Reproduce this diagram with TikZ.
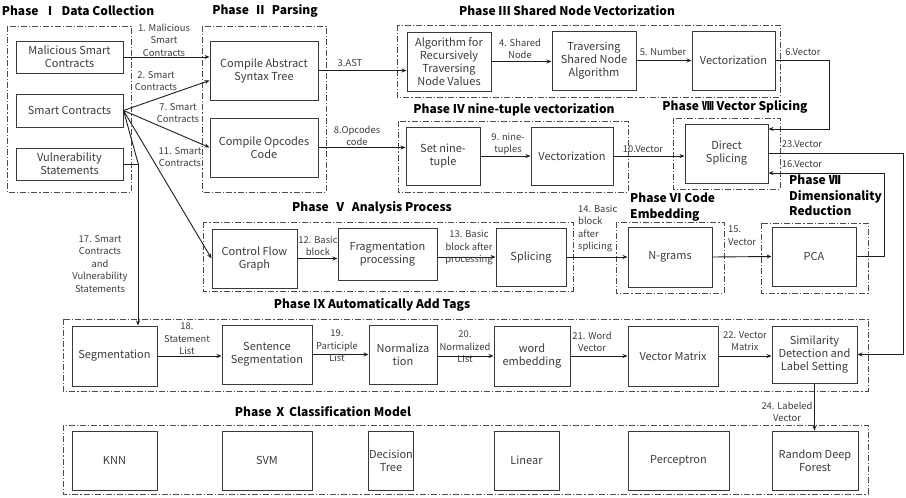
\documentclass[tikz,border=0pt]{standalone}
\usepackage{fontspec}
\setmainfont{Noto Sans CJK SC}
\usetikzlibrary{arrows.meta}
\definecolor{boxc}{HTML}{3A3A3A}
\definecolor{grpc}{HTML}{4A4A4A}
\definecolor{linec}{HTML}{1E1E1E}
\definecolor{txt}{HTML}{3C3C3C}
\begin{document}
\begin{tikzpicture}[x=1pt,y=-1pt,
  box/.style={draw=boxc, line width=1pt, fill=white, text=txt,
    font=\fontsize{11}{13}\selectfont, align=center, inner sep=1pt},
  grp/.style={draw=grpc, line width=0.9pt, dash pattern=on 6pt off 2pt on 1.2pt off 2pt},
  ttl/.style={font=\fontsize{12}{15.5}\selectfont\bfseries, text=black, inner sep=0pt},
  ttll/.style={ttl, align=left, anchor=north west},
  lbl/.style={font=\fontsize{9.4}{12.5}\selectfont, text=txt, align=center, inner sep=0pt},
  lbll/.style={lbl, align=left, anchor=north west},
  arr/.style={draw=linec, line width=0.9pt, -{Stealth[length=5pt,width=4pt]}},
  ln/.style={draw=linec, line width=0.9pt}]

\useasboundingbox (0,0) rectangle (906,498);
\fill[white] (0,0) rectangle (906,498);

% ---------- phase frames ----------
\draw[grp] (7,26) rectangle (131,192);
\draw[grp] (202,26) rectangle (326,192);
\draw[grp] (397,25) rectangle (780,97);
\draw[grp] (398,121) rectangle (628,192);
\draw[grp] (673,118) rectangle (780,189);
\draw[grp] (203,222) rectangle (573,291);
\draw[grp] (616,222) rectangle (724,293);
\draw[grp] (761,223) rectangle (868,293);
\draw[grp] (63,319) rectangle (868,391);
\draw[grp] (63,425) rectangle (868,494);

% ---------- phase titles ----------
\node[ttl] (t1) at (78,11) {Phase \ Ⅰ \ Data Collection};
\node[ttl] (t2) at (265,11) {Phase \ Ⅱ \ Parsing};
\node[ttl] (t3) at (567,11) {Phase Ⅲ Shared Node Vectorization};
\node[ttl] (t4) at (514,110) {Phase Ⅳ nine-tuple vectorization};
\node[ttl] (t8) at (735,107) {Phase Ⅷ Vector Splicing};
\node[ttl] (t5) at (372,208) {Phase \ Ⅴ \ Analysis Process};
\node[ttll] (t6) at (630,193) {Phase Ⅵ Code\\Embedding};
\node[ttll] (t7) at (789,175) {Phase Ⅶ\\Dimensionality\\Reduction};
\node[ttl] (t9) at (372,305) {Phase Ⅸ Automatically Add Tags};
\node[ttl] (t10) at (323,412) {Phase Ⅹ Classification Model};

% ---------- Phase I ----------
\node[box, minimum width=107pt, minimum height=32pt] (mal) at (69.5,57) {Malicious Smart\\Contracts};
\node[box, minimum width=107pt, minimum height=33pt] (sc) at (69.5,110.5) {Smart Contracts};
\node[box, minimum width=107pt, minimum height=32pt] (vul) at (69.5,164) {Vulnerability\\Statements};

% ---------- Phase II ----------
\node[box, minimum width=108pt, minimum height=59pt] (ast) at (264,70.5) {Compile Abstract\\Syntax Tree};
\node[box, minimum width=108pt, minimum height=59pt] (opc) at (264,147.5) {Compile Opcodes\\Code};

% ---------- Phase III ----------
\node[box, minimum width=84pt, minimum height=59pt] (alg) at (449,61.5) {Algorithm for\\Recursively\\Traversing\\Node Values};
\node[box, minimum width=84pt, minimum height=59pt] (trav) at (594,60.5) {Traversing\\Shared Node\\Algorithm};
\node[box, minimum width=83pt, minimum height=59pt] (vec3) at (733.5,60.5) {Vectorization};

% ---------- Phase IV ----------
\node[box, minimum width=74pt, minimum height=58pt] (set) at (443,156) {Set nine-\\tuple};
\node[box, minimum width=82pt, minimum height=58pt] (vec4) at (572,156) {Vectorization};

% ---------- Phase VIII ----------
\node[box, minimum width=83pt, minimum height=59pt] (ds) at (726.5,153.5) {Direct\\Splicing};

% ---------- Phase V ----------
\node[box, minimum width=85pt, minimum height=59pt] (cfg) at (254.5,258.5) {Control Flow\\Graph};
\node[box, minimum width=99pt, minimum height=52pt] (frag) at (387.5,254) {Fragmentation\\processing};
\node[box, minimum width=70pt, minimum height=58pt] (spl) at (531,257) {Splicing};

% ---------- Phase VI / VII ----------
\node[box, minimum width=84pt, minimum height=60pt] (ngr) at (670,257) {N-grams};
\node[box, minimum width=84pt, minimum height=59pt] (pca) at (814,256.5) {PCA};

% ---------- Phase IX ----------
\node[box, minimum width=85pt, minimum height=60pt] (seg) at (114.5,356) {Segmentation};
\node[box, minimum width=90pt, minimum height=59pt] (sen) at (267,354.5) {Sentence\\Segmentation};
\node[box, minimum width=68pt, minimum height=59pt] (nor) at (403,354.5) {Normaliza\\tion};
\node[box, minimum width=76pt, minimum height=60pt] (emb) at (532,356) {word\\embedding};
\node[box, minimum width=90pt, minimum height=60pt] (vm) at (673,356) {Vector Matrix};
\node[box, minimum width=85pt, minimum height=57pt] (sim) at (814.5,354.5) {Similarity\\Detection and\\Label Setting};

% ---------- Phase X ----------
\node[box, minimum width=85pt, minimum height=59pt] (knn) at (114.5,460.5) {KNN};
\node[box, minimum width=90pt, minimum height=59pt] (svm) at (267,460.5) {SVM};
\node[box, minimum width=44pt, minimum height=59pt] (dt) at (391,460.5) {Decision\\Tree};
\node[box, minimum width=65pt, minimum height=59pt] (lin) at (526.5,460.5) {Linear};
\node[box, minimum width=101pt, minimum height=59pt] (per) at (678.5,460.5) {Perceptron};
\node[box, minimum width=86pt, minimum height=59pt] (rdf) at (815,460.5) {Random Deep\\Forest};

% ---------- routing points ----------
\coordinate (j17) at (138,163);
\coordinate (c6) at (829,129);
\coordinate (c16) at (884,173);
\coordinate (r23) at (903,0);

% ---------- connectors ----------
\draw[arr] (mal.east) -- (mal.east -| ast.west);
\draw[arr] (sc.east) -- ([yshift=-10pt]ast.west);
\draw[arr] (sc.east) -- (opc.west);
\draw[arr] (sc.east) -- (cfg.west);
\draw[ln] (sc.east) -- (j17);
\draw[ln] (vul.east) -- (vul.east -| j17);
\draw[arr] (j17) -- (j17 |- seg.north);

\draw[arr] (ast.east) -- (ast.east -| alg.west);
\draw[arr] (alg.east) -- (alg.east -| trav.west);
\draw[arr] (trav.east) -- (vec3.west);
\draw[arr] (vec3.east) -| (c6) -- (c6 -| ds.east);

\draw[arr] (opc.east) -- (opc.east -| set.west);
\draw[arr] (set.east) -- (vec4.west);
\draw[arr] (vec4.east) -- (vec4.east -| ds.west);

\draw[arr] (ds.east) -- (ds.east -| r23) |- (sim.east);
\draw[arr] (pca.east) -| (c16) -- (c16 -| ds.east);

\draw[arr] (cfg.east) -- (cfg.east -| frag.west);
\draw[arr] (spl.west -| frag.east) -- (spl.west);
\draw[arr] (spl.east) -- (ngr.west);
\draw[arr] (ngr.east) -- (pca.west);

\draw[arr] (seg.east) -- (seg.east -| sen.west);
\draw[arr] (sen.east) -- (nor.west);
\draw[arr] (emb.west -| nor.east) -- (emb.west);
\draw[arr] (emb.east) -- (vm.west);
\draw[arr] (vm.east) -- (vm.east -| sim.west);
\draw[arr] (sim.south) -- (sim.south |- rdf.north);

% ---------- connector labels ----------
\node[lbl] (l1) at (164,40) {1. Malicious\\Smart\\Contracts};
\node[lbl] (l2) at (156,81) {2. Smart\\Contracts};
\node[lbl] (l7) at (178,113) {7. Smart\\Contracts};
\node[lbl] (l11) at (180,157) {11. Smart\\Contracts};
\node[lbl] (l17) at (100,264) {17. Smart\\Contracts\\and\\Vulnerability\\Statements};
\node[lbl] (l3) at (350,63) {3.AST};
\node[lbl] (l4) at (520,49) {4. Shared\\Node};
\node[lbl] (l5) at (663,52) {5. Number};
\node[lbl] (l6) at (803,52) {6.Vector};
\node[lbl] (l8) at (357,136) {8.Opcodes\\code};
\node[lbl] (l9) at (508,144) {9. nine-\\tuples};
\node[lbl] (l10) at (643,149) {10.Vector};
\node[lbl] (l23) at (802,144) {23.Vector};
\node[lbl] (l16) at (802,164) {16.Vector};
\node[lbl] (l12) at (318,246) {12. Basic\\block};
\node[lbl] (l13) at (469,248) {13. Basic\\block after\\processing};
\node[lbll] (l14) at (578,205) {14. Basic\\block\\after\\splicing};
\node[lbll] (l15) at (728,226) {15.\\Vector};
\node[lbl] (l18) at (187,339) {18.\\Statement\\List};
\node[lbl] (l19) at (337,346) {19.\\Participle\\List};
\node[lbl] (l20) at (465,347) {20.\\Normalized\\List};
\node[lbl] (l21) at (592,342) {21. Word\\Vector};
\node[lbl] (l22) at (745,341) {22. Vector\\Matrix};
\node[lbl] (l24) at (787,412) {24. Labeled\\Vector};
\end{tikzpicture}
\end{document}
